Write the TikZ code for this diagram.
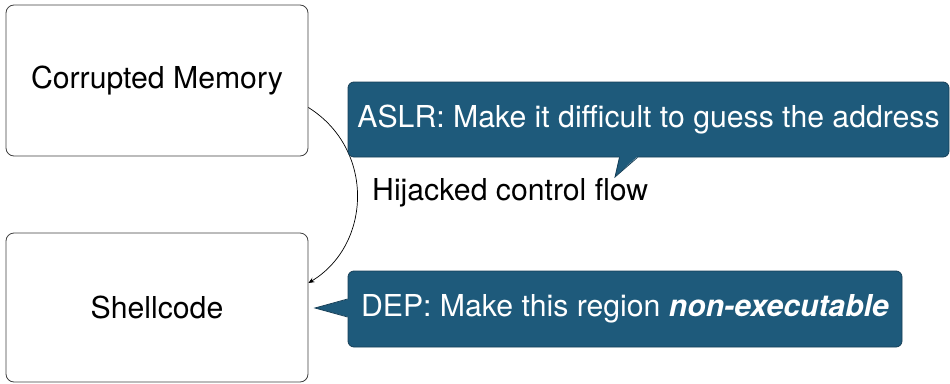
\documentclass[tikz,border=0pt]{standalone}
\usepackage{fontspec}
\setmainfont{TeX Gyre Heros}
\usetikzlibrary{arrows.meta,calc}
\definecolor{callfill}{HTML}{1E5A7B}
\definecolor{callline}{HTML}{163F57}
\tikzset{
  box/.style={draw=black!75, line width=0.8pt, rounded corners=8pt, fill=white, font=\fontsize{30.2}{35}\selectfont},
  callbox/.style={draw=callline, line width=0.8pt, rounded corners=6pt, fill=callfill, text=white, font=\fontsize{30.2}{35}\selectfont},
  pointerfill/.style={fill=callfill},
  pointerline/.style={draw=callline, line width=0.8pt, line join=miter},
  flow/.style={draw=black, line width=0.7pt, -{Stealth[length=6pt,width=5pt]}},
  lbl/.style={font=\fontsize{30.2}{35}\selectfont, inner sep=0pt, anchor=west}
}
\begin{document}
\begin{tikzpicture}[x=1pt,y=-1pt]
\useasboundingbox (0,0) rectangle (950,383);
\node[box, minimum width=302pt, minimum height=151pt] (cm) at (157,80.5) {Corrupted Memory};
\node[box, minimum width=302pt, minimum height=149pt] (sc) at (157,307.5) {Shellcode};
\draw[flow] ([yshift=-27pt]cm.east) .. controls +(67,42) and +(63,-38) .. ([yshift=24.5pt]sc.east);
\node[lbl] (hij) at (372,193) {Hijacked control flow};
\node[callbox, minimum width=601pt, minimum height=75pt] (aslr) at (648.5,119.5) {ASLR: Make it difficult to guess the address};
\coordinate (aslrtip) at (615,177);
\fill[pointerfill] ([xshift=-29pt,yshift=1.2pt]aslr.south) -- (aslrtip) -- ([xshift=-11pt,yshift=1.2pt]aslr.south) -- cycle;
\draw[pointerline] ([xshift=-29pt]aslr.south) -- (aslrtip) -- ([xshift=-11pt]aslr.south);
\node[callbox, minimum width=554pt, minimum height=76pt] (dep) at (625,309) {DEP: Make this region \textbf{\textit{non-executable}}};
\coordinate (deptip) at (315,308);
\fill[pointerfill] ([yshift=10pt,xshift=1.2pt]dep.west) -- (deptip) -- ([yshift=-8pt,xshift=1.2pt]dep.west) -- cycle;
\draw[pointerline] ([yshift=10pt]dep.west) -- (deptip) -- ([yshift=-8pt]dep.west);
\end{tikzpicture}
\end{document}
